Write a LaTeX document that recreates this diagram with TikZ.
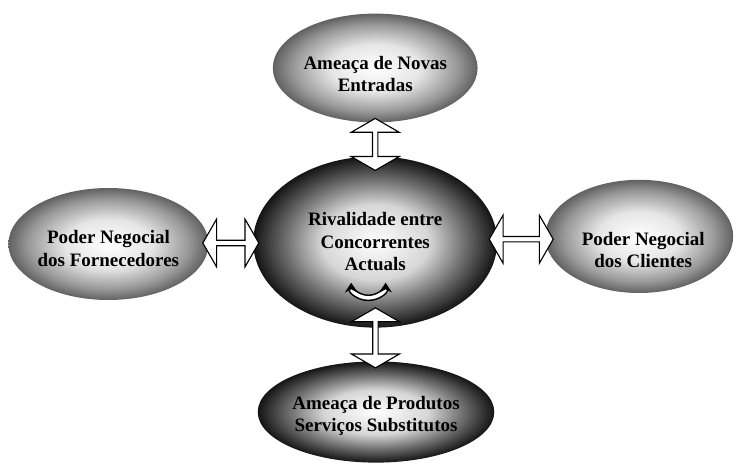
\documentclass[tikz,border=0pt]{standalone}
\usepackage{fontspec}
\setmainfont{Liberation Serif}
\usetikzlibrary{shapes.geometric, shapes.arrows, arrows.meta, calc}
\pgfdeclareradialshading{ovalLight}{\pgfpoint{0bp}{0bp}}{color(0bp)=(white); color(11bp)=(white!90!black); color(20bp)=(black!40); color(25bp)=(black!62); color(50bp)=(black!62)}
\pgfdeclareradialshading{ovalDark}{\pgfpoint{0bp}{0bp}}{color(0bp)=(white); color(11bp)=(white!84!black); color(18bp)=(black!55); color(25bp)=(black!92); color(50bp)=(black!92)}

\begin{document}
\begin{tikzpicture}[
      oval/.style={ellipse, shade, shading=ovalLight, inner sep=0pt,
                   align=center, font=\fontsize{13.5}{16}\selectfont\bfseries},
      darkoval/.style={oval, shading=ovalDark},
      dbl/.style={double arrow, draw=black, fill=white, thick, inner sep=0pt,
                  minimum width=1.2cm, double arrow head extend=0.11cm,
                  double arrow tip angle=120, double arrow head indent=0pt},
      cyc/.style={{Stealth[length=7pt, width=9pt]}-{Stealth[length=7pt, width=9pt]},
                  line width=1.1pt, double=white, double distance=2.5pt}
    ]
    \useasboundingbox (0,0) rectangle (18.45,11.65);

    \node[oval, minimum width=5.12cm, minimum height=2.72cm] (t) at (9.38,9.95)
      {\\[2pt]Ameaça de Novas\\Entradas};
    \node[darkoval, minimum width=6.1cm, minimum height=4.28cm] (c) at (9.38,5.60)
      {Rivalidade entre\\Concorrentes\\Actuals};
    \node[oval, minimum width=4.92cm, minimum height=2.8cm] (l) at (2.71,5.55)
      {\\[0pt]Poder Negocial\\dos Fornecedores};
    \node[oval, minimum width=4.7cm, minimum height=2.83cm] (r) at (15.98,5.74)
      {\\[13pt]\hspace*{0.2cm}Poder Negocial\\\hspace*{0.2cm}dos Clientes};
    \node[darkoval, minimum width=5.05cm, minimum height=2.53cm] (b) at (9.40,1.35)
      {\\[-1pt]Ameaça de Produtos\\Serviços Substitutos};

    % double arrows between the forces
    \path (t.south) -- node[dbl, pos=0.65, rotate=90, minimum height=1.3cm] (tc) {} (c.north);
    \path (c.south) -- node[dbl, pos=0.3, rotate=90, minimum height=1.5cm] (cb) {} (b.north);
    \path (l.east) -- node[dbl, minimum height=1.4cm] (lc) {} (c.west);
    \path (c.east) -- node[dbl, minimum height=1.6cm] (cr) {} (r.west);

    \draw[cyc] ($(c.south)+(-0.6,1.13)$) arc[start angle=180, end angle=360,
      x radius=0.43, y radius=0.38];
  \end{tikzpicture}
\end{document}
